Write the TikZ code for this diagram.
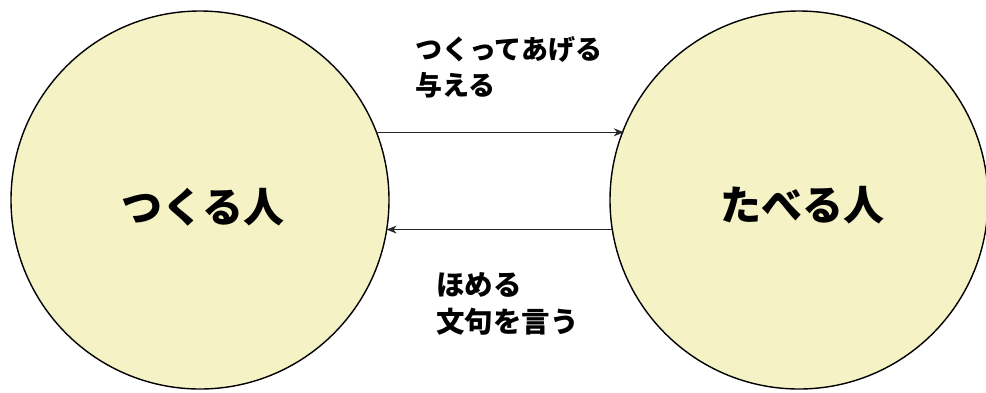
\documentclass[tikz,border=0pt]{standalone}
\usepackage{fontspec}
\newfontfamily\cjk{Noto Sans CJK JP}
\usetikzlibrary{arrows.meta}
\definecolor{pale}{RGB}{245,243,198}
\tikzset{
  person/.style={circle, draw=black, line width=1.4pt, fill=pale, minimum size=378pt, inner sep=0pt, outer sep=0pt},
  ptext/.style={font=\cjk\bfseries\fontsize{41}{44}\selectfont},
  flow/.style={line width=1pt, draw=black!85, -{Stealth[length=10pt,width=8pt]}},
  lab/.style={font=\cjk\bfseries\fontsize{27}{36}\selectfont, align=left, anchor=north west, inner sep=0pt}
}
\begin{document}
\begin{tikzpicture}[x=1pt,y=-1pt]
\useasboundingbox (0,0) rectangle (986,392);
\fill[white] (0,0) rectangle (986,392);
\node[person] (L) at (200,200) {};
\node[person] (R) at (799,200) {};
\node[ptext] (Lt) at (203,207) {つくる人};
\node[ptext] (Rt) at (802,205) {たべる人};
\coordinate (a1) at (L.21.74);
\coordinate (b1) at (R.158.26);
\coordinate (a2) at (R.189.44);
\coordinate (b2) at (L.-9.44);
\draw[flow] (a1) -- (a1 -| b1);
\draw[flow] (a2) -- (a2 -| b2);
\node[lab] (top) at (415,36) {つくってあげる\\与える};
\node[lab, font=\cjk\bfseries\fontsize{28.5}{37}\selectfont] (bot) at (436,272) {ほめる\\文句を言う};
\end{tikzpicture}
\end{document}
